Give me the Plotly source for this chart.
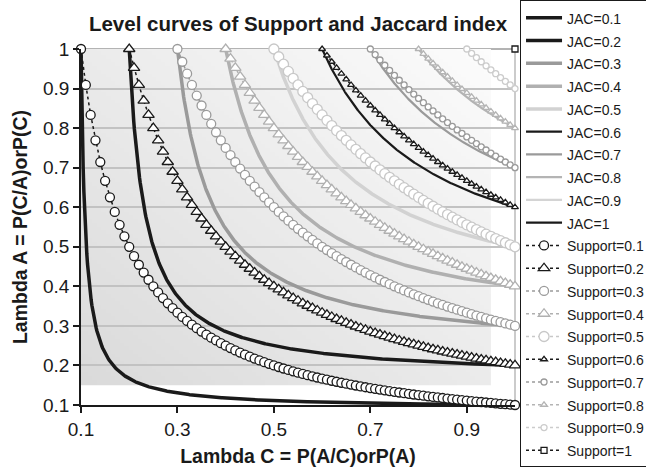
import zlib, struct, base64
import numpy as np
import plotly.graph_objects as go

# ---- data: level values of the curves (curves are the level sets named in the title) ----
jac_levels = [0.1, 0.2, 0.3, 0.4, 0.5, 0.6, 0.7, 0.8, 0.9, 1.0]
jac_names = ["JAC=0.1", "JAC=0.2", "JAC=0.3", "JAC=0.4", "JAC=0.5",
             "JAC=0.6", "JAC=0.7", "JAC=0.8", "JAC=0.9", "JAC=1"]
support_levels = [0.1, 0.2, 0.3, 0.4, 0.5, 0.6, 0.7, 0.8, 0.9, 1.0]
support_names = ["Support=0.1", "Support=0.2", "Support=0.3", "Support=0.4", "Support=0.5",
                 "Support=0.6", "Support=0.7", "Support=0.8", "Support=0.9", "Support=1"]
x_tickvals = [0.1, 0.3, 0.5, 0.7, 0.9]
x_ticktext = ["0.1", "0.3", "0.5", "0.7", "0.9"]
y_tickvals = [0.1, 0.2, 0.3, 0.4, 0.5, 0.6, 0.7, 0.8, 0.9, 1.0]
y_ticktext = ["0.1", "0.2", "0.3", "0.4", "0.5", "0.6", "0.7", "0.8", "0.9", "1"]
x_title = "Lambda C = P(A/C)orP(A)"
y_title = "Lambda A = P(C/A)orP(C)"
chart_title = "Level curves of Support and Jaccard index"

# ---- styles ----
jac_colors = ["#1a1a1a", "#1a1a1a", "#9a9a9a", "#b0b0b0", "#d2d2d2",
              "#1a1a1a", "#9a9a9a", "#b4b4b4", "#d4d4d4", "#1a1a1a"]
jac_widths = [3.5, 3.5, 3.5, 3.5, 3.5, 2.2, 2.2, 2.2, 2.2, 2.2]
sup_colors = ["#1a1a1a", "#1a1a1a", "#9a9a9a", "#b0b0b0", "#c8c8c8",
              "#1a1a1a", "#9a9a9a", "#b4b4b4", "#cccccc", "#1a1a1a"]
sup_symbols = ["circle", "triangle-up", "circle", "triangle-up", "circle",
               "triangle-up", "circle", "triangle-up", "circle", "square"]
sup_sizes = [9, 10, 9, 10, 10, 6, 6, 6, 6, 6]

FONT = "Arial, Liberation Sans, sans-serif"
LEG_TXT = '<span style="font-size:14px">{}</span>'


def gradient_png(w, h, dark, light):
    raw = bytearray()
    for r in range(h):
        v = 1 - r / (h - 1)
        raw.append(0)
        for c in range(w):
            u = c / (w - 1)
            t = (u + v) / 2
            raw.append(int(round(dark + (light - dark) * t)))

    def chunk(tag, data):
        return (struct.pack(">I", len(data)) + tag + data +
                struct.pack(">I", zlib.crc32(tag + data) & 0xffffffff))

    png = (b"\x89PNG\r\n\x1a\n" +
           chunk(b"IHDR", struct.pack(">IIBBBBB", w, h, 8, 0, 0, 0, 0)) +
           chunk(b"IDAT", zlib.compress(bytes(raw))) + chunk(b"IEND", b""))
    return "data:image/png;base64," + base64.b64encode(png).decode()


fig = go.Figure()

for j, name, col, wd in zip(jac_levels, jac_names, jac_colors, jac_widths):
    if j < 1:
        x = np.linspace(j, 1, 600)
    else:
        x = np.array([1.0])
    y = 1.0 / (1.0 / j + 1.0 - 1.0 / x)
    fig.add_trace(go.Scatter(x=x, y=y, mode="lines", name=LEG_TXT.format(name),
                             line=dict(color=col, width=wd)))

for s, name, col, sym, sz in zip(support_levels, support_names, sup_colors, sup_symbols, sup_sizes):
    x = np.arange(int(round(s * 100)), 101) / 100.0
    y = s / x
    fig.add_trace(go.Scatter(x=x, y=y, mode="lines+markers", name=LEG_TXT.format(name),
                             line=dict(color=col, width=1.5, dash="dot"),
                             marker=dict(symbol=sym, size=sz, color="white",
                                         line=dict(color=col, width=1.3)),
                             cliponaxis=False))

fig.add_layout_image(dict(source=gradient_png(90, 90, 218, 252), xref="x", yref="y",
                          x=0.1, y=1.0, sizex=0.85, sizey=0.85, sizing="stretch",
                          xanchor="left", yanchor="top", layer="below"))

fig.add_shape(type="line", xref="paper", yref="paper", x0=0, x1=1, y0=1, y1=1,
              line=dict(color="#9a9a9a", width=1.5), layer="below")
fig.add_shape(type="line", xref="paper", yref="paper", x0=1, x1=1, y0=0, y1=1,
              line=dict(color="#a8a8a8", width=1.2), layer="below")

fig.update_layout(
    width=646, height=467,
    margin=dict(l=81, r=131, t=49, b=62, autoexpand=False),
    paper_bgcolor="white", plot_bgcolor="white",
    font=dict(family=FONT, color="#1a1a1a"),
    title=dict(text=chart_title, x=0.5, xref="paper", xanchor="center",
               y=0.948, yref="container", yanchor="middle",
               font=dict(size=20.5, weight="bold", family=FONT, color="#1a1a1a")),
    showlegend=True,
    legend=dict(xref="container", yref="container", x=0.805, y=0.999,
                xanchor="left", yanchor="top", maxheight=467,
                bgcolor="white", bordercolor="#1a1a1a", borderwidth=1,
                font=dict(size=15.2, family=FONT, color="#1a1a1a"),
                itemwidth=36, tracegroupgap=0),
    xaxis=dict(range=[0.1, 1.0], showgrid=False, zeroline=False, automargin=False,
               showline=True, linecolor="#1a1a1a", linewidth=1.8,
               ticks="outside", ticklen=6, tickwidth=1.5, tickcolor="#1a1a1a",
               tickvals=x_tickvals, ticktext=x_ticktext,
               tickfont=dict(size=19, family=FONT, color="#1a1a1a"),
               title=dict(text=x_title, standoff=14,
                          font=dict(size=19.5, weight="bold", family=FONT, color="#1a1a1a"))),
    yaxis=dict(range=[0.1, 1.0], showgrid=True, gridcolor="#c2c2c2", gridwidth=1.5,
               zeroline=False, automargin=False,
               showline=True, linecolor="#1a1a1a", linewidth=1.8,
               ticks="outside", ticklen=6, tickwidth=1.5, tickcolor="#1a1a1a",
               tickvals=y_tickvals, ticktext=y_ticktext,
               tickfont=dict(size=19, family=FONT, color="#1a1a1a"),
               title=dict(text=y_title, standoff=10,
                          font=dict(size=19.5, weight="bold", family=FONT, color="#1a1a1a"))),
)

fig.write_html("out.html")
